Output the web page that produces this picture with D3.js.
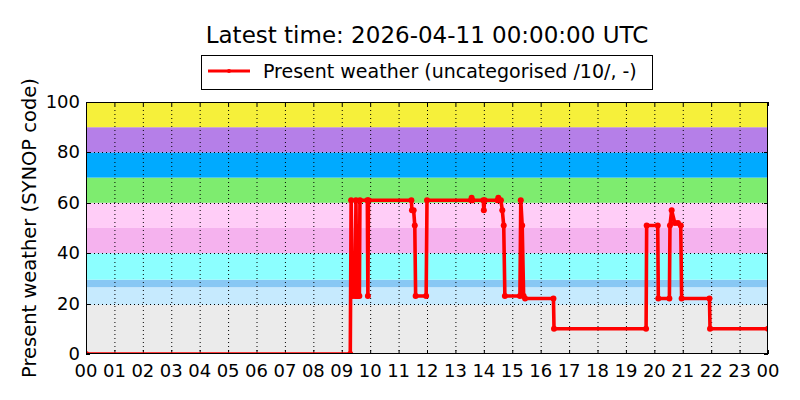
<!DOCTYPE html>
<html><head><meta charset="utf-8">
<script src="https://cdn.jsdelivr.net/npm/d3@7"></script>
<style>body{margin:0;background:#fff}svg{display:block;font-family:"DejaVu Sans",sans-serif}</style>
</head><body><svg id="c" width="800" height="400"></svg>
<script>
const titleText = "Latest time: 2026-04-11 00:00:00 UTC";
const seriesName = "Present weather (uncategorised /10/, -)";
const yLabel = "Present weather (SYNOP code)";
// hours since 00 UTC and SYNOP code values
const hours = [0, 9.30, 9.33, 9.38, 9.47, 9.50, 9.53, 9.56, 9.62, 9.64, 9.90, 9.92, 9.94,
  11.45, 11.47, 11.53, 11.57, 11.60, 11.97, 12.00, 13.55, 13.57, 13.60, 13.98, 14.00, 14.03,
  14.48, 14.51, 14.55, 14.60, 14.65, 14.70, 14.74, 15.27, 15.30, 15.35, 15.40, 15.45, 16.45, 16.47,
  19.71, 19.73, 20.12, 20.14, 20.53, 20.55, 20.61, 20.72, 20.83, 20.93, 20.96, 21.94, 21.96, 24];
const values = [0, 0, 61, 23, 23, 61, 23, 23, 23, 61, 61, 23, 61,
  61, 57, 57, 51, 23, 23, 61, 61, 62, 61, 61, 57, 61,
  61, 62, 61, 61, 57, 51, 23, 23, 61, 51, 23, 22, 22, 10,
  10, 51, 51, 22, 22, 51, 57, 52, 52, 51, 22, 22, 10, 10];
const bandLo = [0, 19.5, 26.5, 29.5, 40, 50, 60, 70, 80, 90];
const bandHi = [19.5, 26.5, 29.5, 40, 50, 60, 70, 80, 90, 100];
const bandColors = ["#ebebeb", "#c6eafe", "#88c8f4", "#8cffff", "#f5b2ee", "#ffcdf7", "#7eec6f", "#00aaff", "#b57fe8", "#f6f03a"];
const yTicks = [0, 20, 40, 60, 80, 100];
const xTicks = d3.range(0, 25);
const xTickLabels = xTicks.map(h => String(h % 24).padStart(2, "0"));

const svg = d3.select("#c");
const L = 86, R = 768, T = 102, B = 354;
const x = d3.scaleLinear().domain([0, 24]).range([L, R]);
const y = d3.scaleLinear().domain([0, 100]).range([B, T]);

svg.append("defs").append("clipPath").attr("id", "clip")
  .append("rect").attr("x", L).attr("y", T).attr("width", R - L).attr("height", B - T);

svg.selectAll("rect.band").data(bandLo).enter().append("rect")
  .attr("x", L).attr("width", R - L)
  .attr("y", (d, i) => y(bandHi[i])).attr("height", (d, i) => y(d) - y(bandHi[i]))
  .attr("fill", (d, i) => bandColors[i]);

// grid
const g = svg.append("g");
g.selectAll("line.vg").data(xTicks.slice(1, -1)).enter().append("line")
  .attr("x1", d => x(d) + 0.5).attr("x2", d => x(d) + 0.5).attr("y1", T).attr("y2", B)
  .attr("stroke", "#000").attr("stroke-width", 1).attr("stroke-dasharray", "1,3");
g.selectAll("line.hg").data(yTicks.slice(1, -1)).enter().append("line")
  .attr("y1", d => Math.round(y(d)) + 0.5).attr("y2", d => Math.round(y(d)) + 0.5).attr("x1", L).attr("x2", R)
  .attr("stroke", "#000").attr("stroke-width", 1).attr("stroke-dasharray", "1,3");

// ticks (inward)
const tk = svg.append("g").attr("stroke", "#000");
xTicks.forEach(h => {
  tk.append("line").attr("x1", x(h) + 0.5).attr("x2", x(h) + 0.5).attr("y1", B).attr("y2", B - 4);
  tk.append("line").attr("x1", x(h) + 0.5).attr("x2", x(h) + 0.5).attr("y1", T).attr("y2", T + 4);
});
yTicks.forEach(v => {
  const yy = Math.round(y(v)) + 0.5;
  tk.append("line").attr("x1", L).attr("x2", L + 4).attr("y1", yy).attr("y2", yy);
  tk.append("line").attr("x1", R).attr("x2", R - 4).attr("y1", yy).attr("y2", yy);
});

// series
const pts = hours.map((h, i) => [h, values[i]]);
const plot = svg.append("g").attr("clip-path", "url(#clip)");
plot.append("path").datum(pts)
  .attr("d", d3.line().x(d => x(d[0])).y(d => y(d[1])))
  .attr("fill", "none").attr("stroke", "#ff0000").attr("stroke-width", 3.6).attr("stroke-linejoin", "round");
plot.selectAll("circle").data(pts).enter().append("circle")
  .attr("cx", d => x(d[0])).attr("cy", d => y(d[1])).attr("r", 3).attr("fill", "#ff0000");

// frame
svg.append("rect").attr("x", L + 0.5).attr("y", T + 0.5).attr("width", R - L - 1).attr("height", B - T - 1)
  .attr("fill", "none").attr("stroke", "#000").attr("stroke-width", 1);

// tick labels
svg.selectAll("text.xl").data(xTicks).enter().append("text")
  .attr("x", d => x(d)).attr("y", 377).attr("text-anchor", "middle")
  .attr("font-size", 18).text((d, i) => xTickLabels[i]);
svg.selectAll("text.yl").data(yTicks).enter().append("text")
  .attr("x", 80).attr("y", d => y(d) + 6).attr("text-anchor", "end")
  .attr("font-size", 18).text(d => d);

// y label
svg.append("text").attr("transform", `translate(36,${(T + B) / 2}) rotate(-90)`)
  .attr("text-anchor", "middle").attr("font-size", 19.5).text(yLabel);

// title
svg.append("text").attr("x", (L + R) / 2).attr("y", 43).attr("text-anchor", "middle")
  .attr("font-size", 23).text(titleText);

// legend
svg.append("rect").attr("x", 201.5).attr("y", 55.5).attr("width", 451).attr("height", 34)
  .attr("fill", "#fff").attr("stroke", "#000");
svg.append("line").attr("x1", 208).attr("x2", 250).attr("y1", 71).attr("y2", 71)
  .attr("stroke", "#ff0000").attr("stroke-width", 3);
svg.append("circle").attr("cx", 229).attr("cy", 71).attr("r", 2).attr("fill", "#ff0000");
svg.append("text").attr("x", 263).attr("y", 78).attr("font-size", 19).text(seriesName);
</script></body></html>
